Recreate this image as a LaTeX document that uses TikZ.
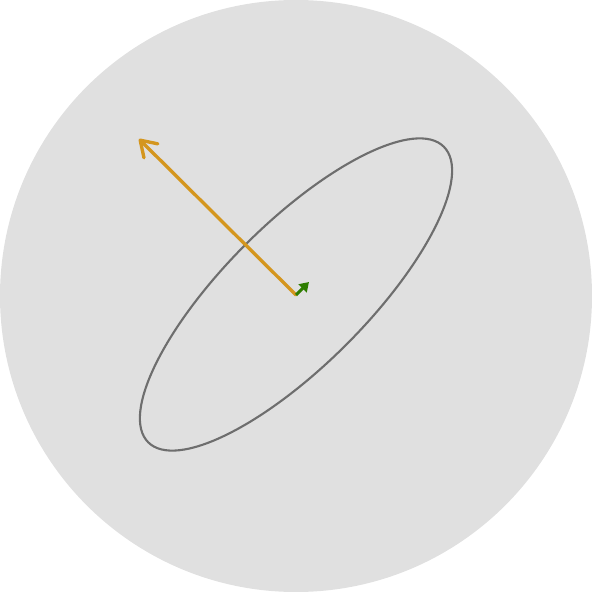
\documentclass[tikz,border=0pt]{standalone}
\usetikzlibrary{arrows.meta}

\definecolor{bgdisk}{HTML}{E0E0E0}
\definecolor{ringgray}{HTML}{6E6E6E}
\definecolor{axisorange}{HTML}{D4961E}
\definecolor{axisgreen}{HTML}{2E7D00}

\begin{document}
\begin{tikzpicture}[
        disk/.style = {fill=bgdisk, draw=none},
        ring/.style = {draw=ringgray, line width=0.6pt},
        bigvec/.style = {-{Straight Barb[length=4.3pt, width=5.6pt, line cap=round, line join=round]}, line width=0.95pt, line cap=round, draw=axisorange},
        smallvec/.style = {-{Triangle[length=2.6pt, width=3.2pt]}, line width=0.9pt, draw=axisgreen}
    ]
        \useasboundingbox (-2.96,-2.96) rectangle (2.96,2.96);

        % Background disk
        \fill[disk] (0,0) circle (2.96);

        % Tilted ellipse
        \draw[ring] (0,0.015) ellipse[x radius=2.09, y radius=0.71, rotate=45];

        % Vectors from the centre
        \coordinate (c) at (0,0.01);
        \coordinate (tipA) at (-1.57,1.57);
        \coordinate (tipB) at (0.13,0.14);
        \draw[bigvec] (c) -- (tipA);
        \draw[smallvec] (c) -- (tipB);
    \end{tikzpicture}
\end{document}
